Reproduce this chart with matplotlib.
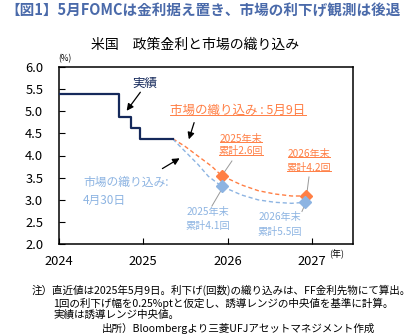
import matplotlib
matplotlib.use("Agg")
import matplotlib.pyplot as plt
from matplotlib.lines import Line2D

plt.rcParams['font.family'] = ['Noto Sans CJK JP', 'DejaVu Sans']

# ---------------- data ----------------
# policy rate (mid of target range), step changes, decimal year
policy_x = [2024.0, 2024.713, 2024.852, 2024.962, 2025.353]
policy_y = [5.375, 4.875, 4.625, 4.375, 4.375]

# market pricing as of May 9
may9_x = [2025.353, 2025.495, 2025.652, 2025.811, 2025.929, 2026.165, 2026.362, 2026.559, 2026.756, 2026.926]
may9_y = [4.375, 4.207, 3.982, 3.757, 3.545, 3.336, 3.207, 3.133, 3.088, 3.088]
may9_pts_x = [2025.929, 2026.926]
may9_pts_y = [3.545, 3.088]

# market pricing as of Apr 30
apr30_x = [2025.353, 2025.377, 2025.495, 2025.652, 2025.771, 2025.929, 2026.165, 2026.362, 2026.559, 2026.756, 2026.914]
apr30_y = [4.375, 4.32, 4.095, 3.793, 3.532, 3.306, 3.11, 3.0, 2.946, 2.923, 2.946]
apr30_pts_x = [2025.929, 2026.914]
apr30_pts_y = [3.306, 2.946]

year_ticks = [2024, 2025, 2026, 2027]
year_labels = ['2024', '2025', '2026', '2027']
y_ticks = [2.0, 2.5, 3.0, 3.5, 4.0, 4.5, 5.0, 5.5, 6.0]

NAVY = '#15295B'
ORANGE = '#FF7F45'
BLUE = '#8DB4E2'
TITLE = '#4A6AAA'

W, H = 416, 336
fig = plt.figure(figsize=(W / 100, H / 100), dpi=100)
ax = fig.add_axes([58.5 / W, 1 - 244.3 / H, (353.3 - 58.5) / W, (244.3 - 66.7) / H])

ax.plot(policy_x, policy_y, drawstyle='steps-post', color=NAVY, lw=1.6, zorder=4)
ax.plot(may9_x, may9_y, color=ORANGE, lw=1.0, ls=(0, (3, 2)), zorder=3)
ax.plot(apr30_x, apr30_y, color=BLUE, lw=1.0, ls=(0, (3, 2)), zorder=3)
ax.plot(may9_pts_x, may9_pts_y, ls='none', marker='D', ms=6, color=ORANGE, zorder=5)
ax.plot(apr30_pts_x, apr30_pts_y, ls='none', marker='D', ms=6, color=BLUE, zorder=5)

ax.set_xlim(2024.0, 2027.485)
ax.set_ylim(2.0, 6.0)
ax.set_xticks(year_ticks)
ax.set_xticklabels(year_labels)
ax.set_yticks(y_ticks)
ax.set_yticklabels([f'{v:.1f}' for v in y_ticks])
ax.tick_params(axis='both', direction='in', length=4, width=0.8, labelsize=9.3, colors='black')
ax.tick_params(axis='y', pad=11)
ax.tick_params(axis='x', pad=8)
for s in ax.spines.values():
    s.set_linewidth(1.1)
    s.set_color('black')

# titles
fig.text(5 / W, 1 - 10 / H, '【図1】5月FOMCは金利据え置き、市場の利下げ観測は後退',
         fontsize=10.5, fontweight='bold', color=TITLE, va='center', ha='left')
fig.text(195 / W, 1 - 45 / H, '米国　政策金利と市場の織り込み', fontsize=10,
         color='black', va='center', ha='center')
fig.text(65 / W, 1 - 59 / H, '(%)', fontsize=6, va='center', ha='center')
fig.text(337 / W, 1 - 254 / H, '(年)', fontsize=6.5, va='center', ha='center')

# annotations
arrow = dict(arrowstyle='-|>', color='black', lw=0.9, mutation_scale=10)
ax.text(2025.022, 5.633, '実績', color=NAVY, fontsize=9, ha='center', va='center')
ax.annotate('', xy=(2024.786, 4.957), xytext=(2024.987, 5.475), arrowprops=arrow)

t_or = ax.text(2026.122, 5.025, '市場の織り込み : 5月9日', color=ORANGE, fontsize=9,
               ha='center', va='center')
ax.annotate('', xy=(2025.531, 4.304), xytext=(2025.613, 4.80), arrowprops=arrow)

ax.text(2024.29, 3.403, '市場の織り込み:', color=BLUE, fontsize=8.5, ha='left', va='center')
ax.text(2024.29, 2.998, '4月30日', color=BLUE, fontsize=8.5, ha='left', va='center')
ax.annotate('', xy=(2025.46, 3.97), xytext=(2025.2, 3.673), arrowprops=arrow)

under = [t_or]
under.append(ax.text(2026.157, 4.372, '2025年末', color=ORANGE, fontsize=7.3, ha='center', va='center'))
under.append(ax.text(2026.157, 4.10, '累計2.6回', color=ORANGE, fontsize=7.3, ha='center', va='center'))
under.append(ax.text(2026.961, 4.034, '2026年末', color=ORANGE, fontsize=7.3, ha='center', va='center'))
under.append(ax.text(2026.961, 3.72, '累計4.2回', color=ORANGE, fontsize=7.3, ha='center', va='center'))

ax.text(2025.767, 2.728, '2025年末', color=BLUE, fontsize=7.3, ha='center', va='center')
ax.text(2025.767, 2.412, '累計4.1回', color=BLUE, fontsize=7.3, ha='center', va='center')
ax.text(2026.618, 2.615, '2026年末', color=BLUE, fontsize=7.3, ha='center', va='center')
ax.text(2026.618, 2.277, '累計5.5回', color=BLUE, fontsize=7.3, ha='center', va='center')

lead = dict(color='#999999', lw=0.7, zorder=2)
ax.plot([2026.05, 2025.944], [3.876, 3.58], **lead)
ax.plot([2026.961, 2026.937], [3.516, 3.16], **lead)
ax.plot([2025.933, 2025.814], [3.25, 2.863], **lead)
ax.plot([2026.915, 2026.878], [2.9, 2.74], **lead)

# notes
fs_note = 7.6
fig.text(32 / W, 1 - 290 / H, '注）直近値は2025年5月9日。利下げ(回数)の織り込みは、FF金利先物にて算出。',
         fontsize=fs_note, va='center', ha='left')
fig.text(53 / W, 1 - 303 / H, '1回の利下げ幅を0.25%ptと仮定し、誘導レンジの中央値を基準に計算。',
         fontsize=fs_note, va='center', ha='left')
fig.text(53 / W, 1 - 315 / H, '実績は誘導レンジ中央値。', fontsize=fs_note, va='center', ha='left')
fig.text(102 / W, 1 - 328 / H, '出所）Bloombergより三菱UFJアセットマネジメント作成',
         fontsize=fs_note, va='center', ha='left')

# underline texts
fig.canvas.draw()
r = fig.canvas.get_renderer()
inv = fig.transFigure.inverted()
for t in under:
    bb = t.get_window_extent(r)
    (x0, y0) = inv.transform((bb.x0, bb.y0 + 1.5))
    (x1, _) = inv.transform((bb.x1, bb.y0 + 1.5))
    fig.add_artist(Line2D([x0, x1], [y0, y0], color=ORANGE, lw=0.7, transform=fig.transFigure))

fig.savefig('out.png', dpi=100)
